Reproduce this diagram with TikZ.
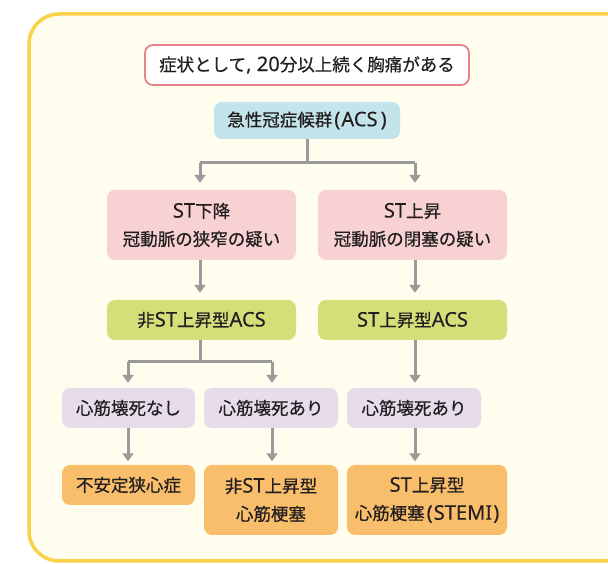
\documentclass[tikz,border=0pt]{standalone}
\usepackage{fontspec}
\newfontfamily\cjk[FakeBold=0.6]{Noto Sans CJK JP}
\newfontfamily\latfont[FakeBold=0.15,Scale=1.15]{Noto Sans}
\newcommand\latn[1]{{\latfont #1}}
\usetikzlibrary{arrows.meta}
\definecolor{framey}{HTML}{F9D24A}
\definecolor{framefill}{HTML}{FFFDEE}
\definecolor{topborder}{HTML}{E8818A}
\definecolor{acsfill}{HTML}{C3E4EA}
\definecolor{pinkfill}{HTML}{F8D2D2}
\definecolor{greenfill}{HTML}{D3E07A}
\definecolor{purplefill}{HTML}{E7DCEC}
\definecolor{orangefill}{HTML}{F8BE6B}
\definecolor{arrowgray}{HTML}{9A9A9A}
\definecolor{textc}{HTML}{231F20}
\tikzset{
  box/.style={rounded corners=8pt, inner sep=0pt, align=center, text=textc,
    font=\cjk\fontsize{17.5}{28}\selectfont},
  topbox/.style={box, draw=topborder, line width=1.8pt, fill=white,
    minimum width=324pt, minimum height=40pt},
  acsbox/.style={box, fill=acsfill, minimum width=186pt, minimum height=37pt},
  pinkbox/.style={box, fill=pinkfill, minimum width=189pt, minimum height=70pt},
  greenbox/.style={box, fill=greenfill, minimum width=189pt, minimum height=40pt},
  purplebox/.style={box, fill=purplefill, minimum width=134pt, minimum height=40pt},
  orangebox/.style={box, fill=orangefill, minimum height=40pt},
  conn/.style={draw=arrowgray, line width=3pt},
  arr/.style={conn, -{Triangle[width=11pt,length=8pt]}},
}
\begin{document}
\begin{tikzpicture}[x=1pt,y=1pt]
\useasboundingbox (0,0) rectangle (608,564);
\clip (0,0) rectangle (608,564);
\fill[white] (0,0) rectangle (608,564);
\draw[framey, line width=3.5pt, fill=framefill, rounded corners=30pt] (29,3) rectangle (660,550);

\node[topbox] (top) at (307,499) {症状として\latn{, 20}分以上続く胸痛がある};
\node[acsbox] (acs) at (307,443.5) {急性冠症候群\latn{\hspace{2pt}(\hspace{1pt}ACS\hspace{3pt})}};

\node[pinkbox] (pL) at (201.5,339) {\latn{ST}下降\\冠動脈の狭窄の疑い};
\node[pinkbox] (pR) at (412.5,339) {\latn{ST}上昇\\冠動脈の閉塞の疑い};

\node[greenbox] (gL) at (201.5,244) {非\latn{ST}上昇型\latn{ACS}};
\node[greenbox] (gR) at (412.5,244) {\latn{ST}上昇型\latn{ACS}};

\node[purplebox, minimum width=133pt] (uL) at (128.5,156) {心筋壊死なし};
\node[purplebox] (uM) at (271,156) {心筋壊死あり};
\node[purplebox] (uR) at (414,156) {心筋壊死あり};

\node[orangebox, minimum width=133pt] (oL) at (128.5,79) {不安定狭心症};
\node[orangebox, minimum width=134pt, minimum height=70pt] (oM) at (271,64) {非\latn{ST}上昇型\\心筋梗塞};
\node[orangebox, minimum width=160pt, minimum height=70pt] (oR) at (427,64) {\latn{ST}上昇型\\心筋梗塞\latn{\hspace{2pt}(\hspace{1pt}STEMI\hspace{1pt})}};

% ACS split
\coordinate (j1) at (307,401);
\coordinate (a1) at (200,401);
\coordinate (a2) at (415,401);
\draw[conn] (acs.south) -- (j1);
\draw[conn] (a1) -- (a2);
\draw[arr, shorten >=7pt] (a1) -- (a1 |- pL.north);
\draw[arr, shorten >=7pt] (a2) -- (a2 |- pR.north);

% pink to green
\draw[arr, shorten >=7pt] (a1 |- pL.south) -- (a1 |- gL.north);
\draw[arr, shorten >=7pt] (a2 |- pR.south) -- (a2 |- gR.north);

% green left split
\coordinate (j2) at (200,202);
\coordinate (b1) at (128,202);
\coordinate (b2) at (272,202);
\draw[conn] (a1 |- gL.south) -- (j2);
\draw[conn] (b1) -- (b2);
\draw[arr, shorten >=5pt] (b1) -- (b1 |- uL.north);
\draw[arr, shorten >=5pt] (b2) -- (b2 |- uM.north);
\draw[arr, shorten >=5pt] (a2 |- gR.south) -- (a2 |- uR.north);

% purple to orange
\draw[arr, shorten >=3.5pt] (b1 |- uL.south) -- (b1 |- oL.north);
\draw[arr, shorten >=3.5pt] (b2 |- uM.south) -- (b2 |- oM.north);
\draw[arr, shorten >=3.5pt] (a2 |- uR.south) -- (a2 |- oR.north);
\end{tikzpicture}
\end{document}
